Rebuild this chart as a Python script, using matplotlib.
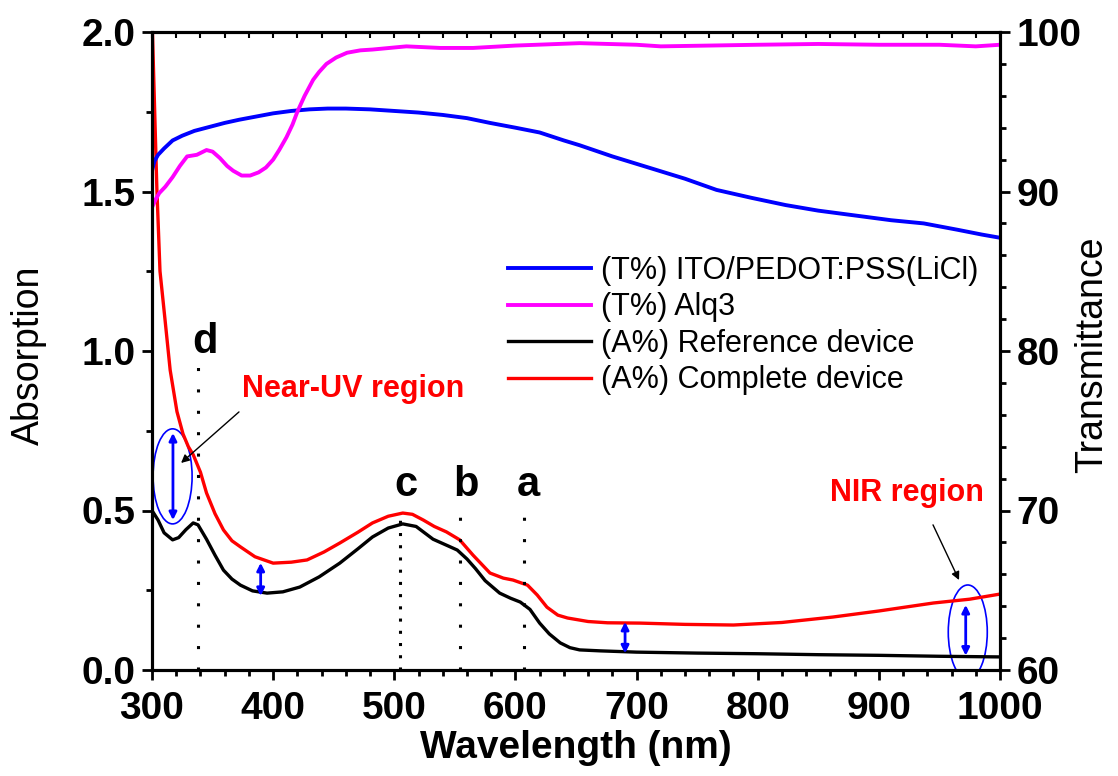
import matplotlib
matplotlib.use("Agg")
import matplotlib.pyplot as plt
from matplotlib.patches import Ellipse

plt.rcParams['font.family'] = ['Liberation Sans', 'DejaVu Sans']

# absorption of the two devices (left axis)
wl_ref = [300, 305, 310, 317, 322, 328, 334, 338, 345, 352, 359, 366, 373, 383, 395,
          408, 422, 438, 455, 470, 482, 495, 507, 518, 532, 545, 552, 560, 567, 575,
          587, 596, 604, 612, 620, 628, 637, 645, 653, 670, 700, 750, 800, 850, 900,
          950, 1000]
abs_ref = [0.50, 0.47, 0.43, 0.408, 0.415, 0.44, 0.461, 0.455, 0.41, 0.36, 0.313, 0.285,
           0.266, 0.248, 0.241, 0.245, 0.260, 0.292, 0.335, 0.38, 0.417, 0.445, 0.458,
           0.45, 0.41, 0.388, 0.376, 0.348, 0.318, 0.28, 0.241, 0.225, 0.213, 0.19,
           0.147, 0.113, 0.085, 0.07, 0.063, 0.06, 0.056, 0.053, 0.051, 0.048, 0.046,
           0.043, 0.041]

wl_dev = [300, 302, 304, 306.6, 310.7, 315, 320.6, 325.6, 330, 334, 340, 345, 352, 359,
          366, 373, 385, 400, 415, 428, 442, 455, 470, 482, 495, 507, 515, 524, 533,
          543, 554, 565, 579, 590, 598, 610, 618, 626, 635, 643, 660, 676, 703, 740,
          780, 820, 862, 900, 945, 975, 1000]
abs_dev = [2.05, 1.78, 1.51, 1.25, 1.10, 0.94, 0.81, 0.74, 0.70, 0.675, 0.62, 0.555,
           0.49, 0.439, 0.405, 0.386, 0.355, 0.335, 0.338, 0.345, 0.37, 0.398, 0.432,
           0.461, 0.482, 0.492, 0.488, 0.47, 0.45, 0.433, 0.408, 0.36, 0.304, 0.288,
           0.282, 0.266, 0.235, 0.197, 0.172, 0.163, 0.152, 0.148, 0.147, 0.143, 0.141,
           0.149, 0.166, 0.185, 0.210, 0.222, 0.238]

# transmittance (right axis)
wl_ito = [300, 302, 305, 310, 317, 325, 335, 345, 360, 372, 386, 400, 415, 430, 445,
          460, 480, 500, 520, 540, 560, 579, 600, 620, 640, 653, 680, 710, 740, 766,
          795, 823, 850, 880, 910, 937, 965, 985, 1000]
t_ito = [91.3, 91.9, 92.3, 92.7, 93.2, 93.5, 93.8, 94.0, 94.3, 94.5, 94.7, 94.9, 95.05,
         95.15, 95.2, 95.2, 95.15, 95.05, 94.95, 94.8, 94.6, 94.3, 94.0, 93.7, 93.2,
         92.9, 92.2, 91.5, 90.8, 90.1, 89.6, 89.15, 88.8, 88.5, 88.2, 88.0, 87.6, 87.3,
         87.1]

wl_alq = [300, 303, 306, 311, 317, 323, 329, 337, 345, 350, 356, 362, 367, 374, 381,
          388, 394, 400, 405, 411, 416, 420, 426, 433, 438, 444, 452, 461, 472, 482,
          510, 538, 565, 600, 653, 700, 720, 760, 800, 850, 900, 950, 980, 1000]
t_alq = [89.0, 89.5, 89.9, 90.3, 90.9, 91.6, 92.2, 92.3, 92.6, 92.5, 92.1, 91.6, 91.3,
         91.0, 91.0, 91.2, 91.5, 92.0, 92.6, 93.4, 94.2, 95.0, 96.0, 97.0, 97.5, 98.0,
         98.4, 98.7, 98.85, 98.9, 99.1, 99.0, 99.0, 99.15, 99.3, 99.2, 99.1, 99.15,
         99.2, 99.25, 99.2, 99.2, 99.1, 99.2]

# marked peaks
peak_names = ['d', 'c', 'b', 'a']
peak_wl = [338, 505, 554, 607]

fig = plt.figure(figsize=(11.18, 7.76), dpi=100)
ax = fig.add_axes([152 / 1118, 1 - 670 / 776, 848 / 1118, 638 / 776])
ax2 = ax.twinx()
ax_top = ax.twiny()

l3, = ax.plot(wl_ref, abs_ref, color='black', lw=2.4)
l4, = ax.plot(wl_dev, abs_dev, color='#ff0000', lw=2.4)
l1, = ax2.plot(wl_ito, t_ito, color='#0000ff', lw=2.8)
l2, = ax2.plot(wl_alq, t_alq, color='#ff00ff', lw=2.8)

ax.set_xlim(300, 1000)
ax_top.set_xlim(300, 1000)
ax.set_ylim(0, 2.0)
ax2.set_ylim(60, 100)
ax.set_xticks([300, 400, 500, 600, 700, 800, 900, 1000])
ax.set_xticks(range(300, 1001, 20), minor=True)
ax_top.set_xticks(range(300, 1001, 20))
ax_top.set_xticklabels([])
ax.set_yticks([0, 0.5, 1.0, 1.5, 2.0])
ax.set_yticks([0.25, 0.75, 1.25, 1.75], minor=True)
ax.set_yticklabels(['0.0', '0.5', '1.0', '1.5', '2.0'])
ax2.set_yticks([60, 70, 80, 90, 100])
ax2.set_yticks(range(60, 101, 2), minor=True)

for a in (ax, ax2, ax_top):
    for s in a.spines.values():
        s.set_linewidth(2.2)
ax.tick_params(axis='both', which='major', direction='out', length=7, width=2,
               labelsize=28, pad=3)
ax.tick_params(axis='both', which='minor', direction='out', length=4, width=2)
ax.tick_params(axis='x', which='major', pad=8)
ax.tick_params(axis='y', which='major', pad=5)
ax_top.tick_params(axis='x', direction='in', length=4, width=1.5)
ax2.tick_params(axis='y', which='major', direction='out', length=7, width=2,
                labelsize=28, pad=5)
ax2.tick_params(axis='y', which='minor', direction='out', length=4, width=2)
for lab in ax.get_xticklabels() + ax.get_yticklabels() + ax2.get_yticklabels():
    lab.set_fontweight('bold')

ax.set_xlabel('Wavelength (nm)', fontsize=28, fontweight='bold')
ax.xaxis.set_label_coords(0.5, -0.094)
fig.text(29 / 1118, 1 - 355 / 776, 'Absorption', fontsize=27, rotation=90,
         ha='center', va='center')
fig.text(1092 / 1118, 1 - 355 / 776, 'Transmittance', fontsize=27, rotation=90,
         ha='center', va='center')

# dotted markers of the peaks
tops = [0.956, 0.48, 0.486, 0.486]
styles = [(0, (1, 6)), (0, (1, 3)), (0, (1, 6)), (0, (1, 6))]
for w, t, st in zip(peak_wl, tops, styles):
    ax.plot([w, w], [0, t], color='black', lw=2.2, linestyle=st)
label_pos = [(343.8, 0.994), (510, 0.545), (559.2, 0.545), (610.4, 0.545)]
for name, (x, y) in zip(peak_names, label_pos):
    ax.text(x, y, name, fontsize=30, fontweight='bold', ha='center', va='baseline')

# double arrows showing the absorption gain
gaps = [(317.3, 0.743, 0.470), (389.7, 0.336, 0.232), (690.5, 0.151, 0.052),
        (971.7, 0.204, 0.045)]
for x, y1, y2 in gaps:
    ax.annotate('', xy=(x, y1), xytext=(x, y2),
                arrowprops=dict(arrowstyle='<|-|>', color='#0000ff', lw=2,
                                mutation_scale=11, shrinkA=0, shrinkB=0))

ax.add_patch(Ellipse((317, 0.607), 32.2, 0.298, fill=False, edgecolor='#0000ff', lw=1.2))
ax.add_patch(Ellipse((973.4, 0.119), 32.2, 0.295, fill=False, edgecolor='#0000ff', lw=1.2))

ax.text(466, 0.881, 'Near-UV region', color='#ff0000', fontsize=22, fontweight='bold',
        ha='center', va='center')
ax.annotate('', xy=(324, 0.649), xytext=(371.8, 0.809),
            arrowprops=dict(arrowstyle='-|>', color='black', lw=1, mutation_scale=12,
                            shrinkA=0, shrinkB=0))
ax.text(923, 0.555, 'NIR region', color='#ff0000', fontsize=22, fontweight='bold',
        ha='center', va='center')
ax.annotate('', xy=(966.2, 0.282), xytext=(944.7, 0.455),
            arrowprops=dict(arrowstyle='-|>', color='black', lw=1, mutation_scale=12,
                            shrinkA=0, shrinkB=0))

ax_top.legend([l1, l2, l3, l4],
              ['(T%) ITO/PEDOT:PSS(LiCl)', '(T%) Alq3', '(A%) Reference device',
               '(A%) Complete device'],
              loc='upper left', bbox_to_anchor=(508 / 1118, 1 - 256 / 776),
              bbox_transform=fig.transFigure, frameon=False, fontsize=22,
              handlelength=2.7, handletextpad=0.35, labelspacing=0.21, borderpad=0,
              borderaxespad=0)

fig.savefig('out.png', dpi=100)
